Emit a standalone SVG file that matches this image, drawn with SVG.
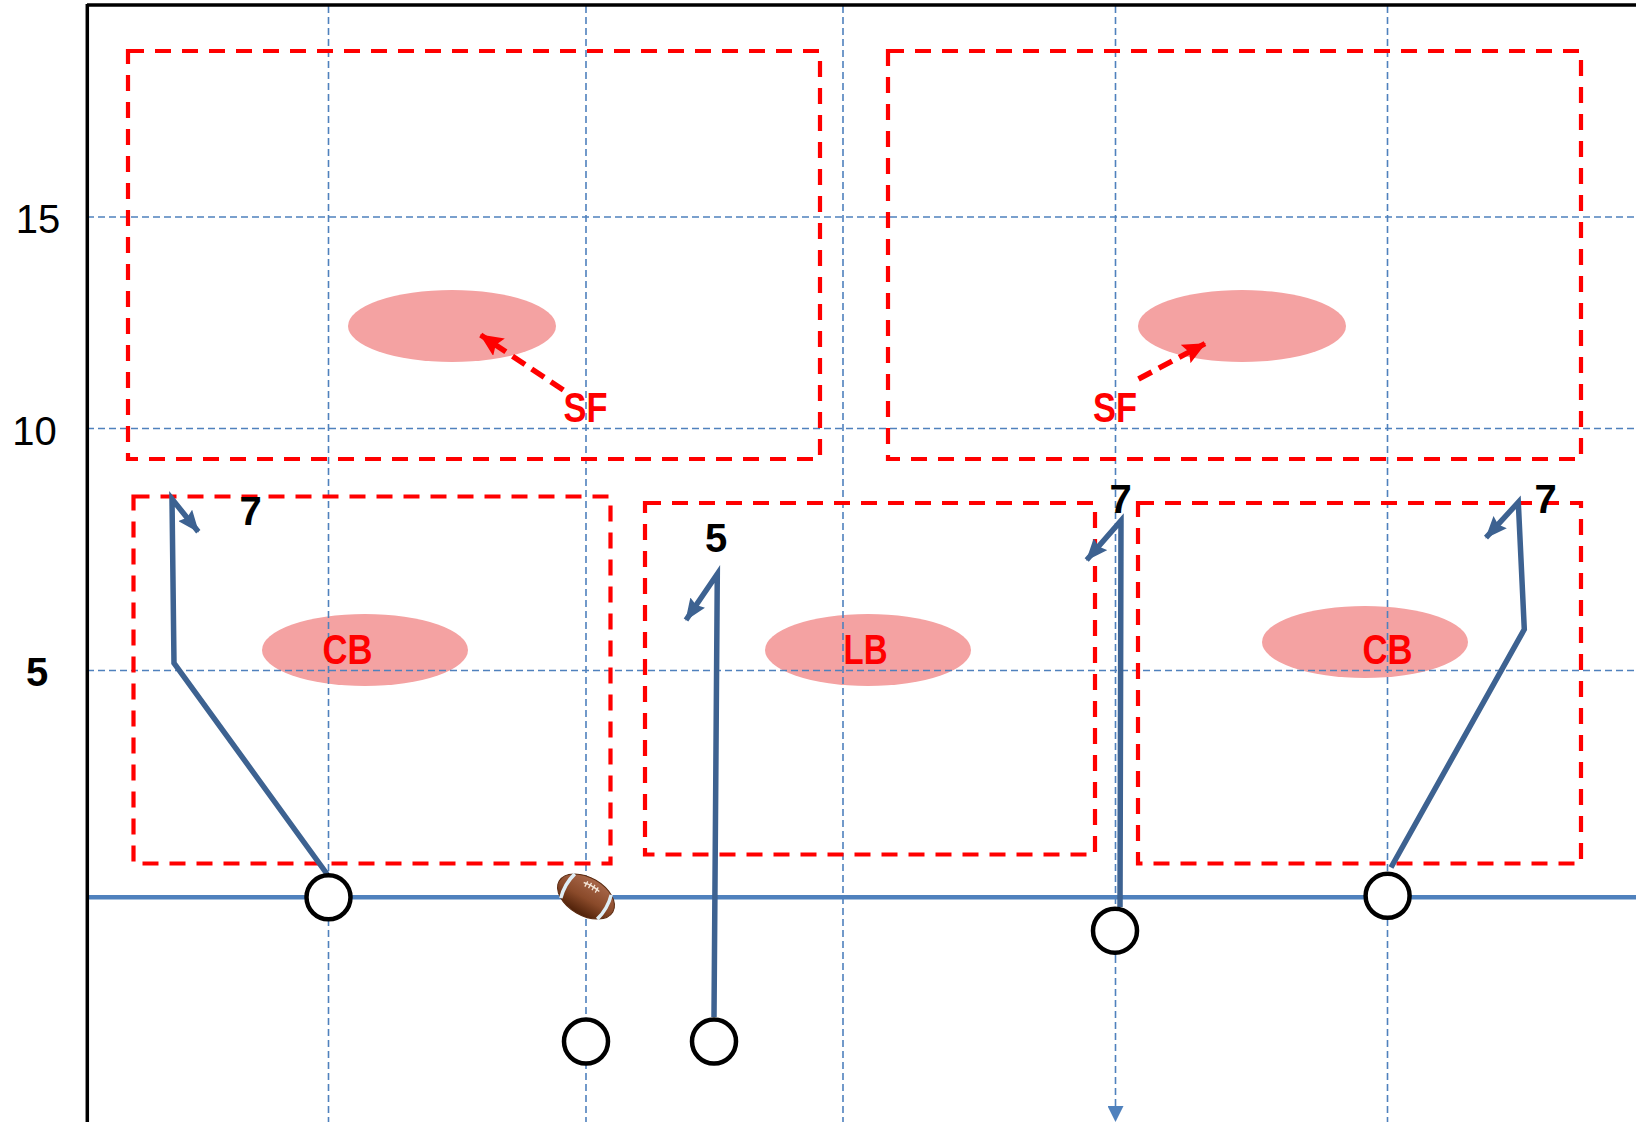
<svg xmlns="http://www.w3.org/2000/svg" width="1636" height="1122" viewBox="0 0 1636 1122">
<style>
.grid{stroke:#4f81bd;stroke-width:1.6;stroke-dasharray:7 4;fill:none}
.zone{stroke:#ff0000;stroke-width:4.2;stroke-dasharray:16 11;fill:none}
.area{fill:#f4a2a2}
.route{stroke:#3d6291;stroke-width:5.5;fill:none;stroke-linejoin:miter}
.sfarrow{stroke:#ff0000;stroke-width:5.5;stroke-dasharray:15 8;fill:none}
.player{fill:#ffffff;stroke:#000000;stroke-width:4.5}
.pos{font-family:"Liberation Sans",Arial,sans-serif;font-weight:bold;font-size:42px;fill:#ff0000;text-anchor:middle}
.num{font-family:"Liberation Sans",Arial,sans-serif;font-weight:bold;font-size:40px;fill:#000000;text-anchor:middle}
.yard{font-family:"Liberation Sans",Arial,sans-serif;font-size:40px;fill:#000000;text-anchor:middle}
</style>
<defs>
<marker id="routeHead" markerUnits="userSpaceOnUse" markerWidth="22" markerHeight="18" viewBox="0 0 22 18" refX="21" refY="9" orient="auto">
<path d="M0,0 L22,9 L0,18 L3,9 z" fill="#3d6291"/>
</marker>
<marker id="redHead" markerUnits="userSpaceOnUse" markerWidth="23" markerHeight="21" viewBox="0 0 23 21" refX="22" refY="10.5" orient="auto">
<path d="M0,0 L23,10.5 L0,21 L4,10.5 z" fill="#ff0000"/>
</marker>
<marker id="blueHead" markerUnits="userSpaceOnUse" markerWidth="16" markerHeight="16" viewBox="0 0 16 16" refX="15" refY="8" orient="auto">
<path d="M0,0 L16,8 L0,16 z" fill="#4f81bd"/>
</marker>
<linearGradient id="ballGrad" x1="0" y1="0" x2="0" y2="1">
<stop offset="0" stop-color="#a8674a"/>
<stop offset="0.55" stop-color="#8a4a2a"/>
<stop offset="1" stop-color="#4e2008"/>
</linearGradient>
</defs>

<g id="coverage-areas">
<ellipse id="area-sf-left" class="area" cx="452" cy="326" rx="104" ry="36"/>
<ellipse id="area-sf-right" class="area" cx="1242" cy="326" rx="104" ry="36"/>
<ellipse id="area-cb-left" class="area" cx="365" cy="650" rx="103" ry="36"/>
<ellipse id="area-lb" class="area" cx="868" cy="650" rx="103" ry="36"/>
<ellipse id="area-cb-right" class="area" cx="1365" cy="642" rx="103" ry="36"/>
</g>

<g id="grid">
<line class="grid" x1="328.5" y1="6" x2="328.5" y2="1122"/>
<line class="grid" x1="586" y1="6" x2="586" y2="1122"/>
<line class="grid" x1="843" y1="6" x2="843" y2="1122"/>
<line class="grid" x1="1115.5" y1="6" x2="1115.5" y2="956"/>
<line class="grid" x1="1387.5" y1="6" x2="1387.5" y2="1122"/>
<line class="grid" x1="87" y1="217" x2="1636" y2="217"/>
<line class="grid" x1="87" y1="428.5" x2="1636" y2="428.5"/>
<line class="grid" x1="87" y1="670.5" x2="1636" y2="670.5"/>
</g>

<g id="zones">
<rect id="zone-deep-left" class="zone" x="128" y="51" width="692" height="408"/>
<rect id="zone-deep-right" class="zone" x="888" y="51" width="693" height="408"/>
<rect id="zone-flat-left" class="zone" x="133.5" y="496.5" width="477" height="367"/>
<rect id="zone-hook-middle" class="zone" x="645" y="503" width="450" height="351.5"/>
<rect id="zone-flat-right" class="zone" x="1138" y="503" width="443" height="360.5"/>
</g>

<g id="field">
<line x1="87" y1="897.3" x2="1636" y2="897.3" stroke="#4f81bd" stroke-width="4.5"/>
<line x1="87" y1="5" x2="1636" y2="5" stroke="#000000" stroke-width="3.5"/>
<line x1="87.3" y1="4" x2="87.3" y2="1122" stroke="#000000" stroke-width="3.5"/>
</g>

<g id="connectors">
<path id="route-left-7" class="route" d="M327,874 L174,663 L172,499 L198.3,531.7" marker-end="url(#routeHead)"/>
<path id="route-5" class="route" d="M714,1017 L717.3,574 L686,620" marker-end="url(#routeHead)"/>
<path id="route-middle-7" class="route" d="M1120,907 L1121,520.7 L1086.7,560" marker-end="url(#routeHead)"/>
<path id="route-right-7" class="route" d="M1391,867.5 L1524.3,629.3 L1518.3,502.3 L1486,537.7" marker-end="url(#routeHead)"/>
<path id="motion-back" class="grid" d="M1115.5,956 L1115.5,1121" marker-end="url(#blueHead)"/>
<path id="sf-left-drop" class="sfarrow" d="M563.3,390 L480.7,335" marker-end="url(#redHead)"/>
<path id="sf-right-drop" class="sfarrow" d="M1138.5,379 L1205,343.6" marker-end="url(#redHead)"/>
</g>

<g id="players">
<circle id="player-left-wr" class="player" cx="328.5" cy="897.3" r="22"/>
<circle id="player-qb" class="player" cx="586" cy="1041.5" r="22"/>
<circle id="player-rb" class="player" cx="714" cy="1041.5" r="22"/>
<circle id="player-slot" class="player" cx="1115" cy="930.7" r="22"/>
<circle id="player-right-wr" class="player" cx="1387.6" cy="895.8" r="22"/>
</g>

<g id="football" transform="translate(586,896.5) rotate(30)">
<ellipse cx="0" cy="0" rx="31" ry="19" fill="url(#ballGrad)" stroke="#5a2a10" stroke-width="1"/>
<path d="M-21,-14 Q-25,0 -21,14" fill="none" stroke="#dfeef6" stroke-width="3.5"/>
<path d="M21,-14 Q25,0 21,14" fill="none" stroke="#dfeef6" stroke-width="3.5"/>
<path d="M-9,-11 Q0,-13 9,-11" fill="none" stroke="#f4e6d8" stroke-width="1.5"/>
<path d="M-6,-14 L-6,-8 M-2,-14.5 L-2,-8.5 M2,-14.5 L2,-8.5 M6,-14 L6,-8" stroke="#f4e6d8" stroke-width="1.3"/>
</g>

<g id="labels">
<text id="label-sf-left" class="pos" x="585.5" y="421.5" textLength="44" lengthAdjust="spacingAndGlyphs">SF</text>
<text id="label-sf-right" class="pos" x="1115" y="421.5" textLength="44" lengthAdjust="spacingAndGlyphs">SF</text>
<text id="label-cb-left" class="pos" x="347.5" y="664" textLength="50" lengthAdjust="spacingAndGlyphs">CB</text>
<text id="label-lb" class="pos" x="865.5" y="664" textLength="44" lengthAdjust="spacingAndGlyphs">LB</text>
<text id="label-cb-right" class="pos" x="1387.5" y="664" textLength="50" lengthAdjust="spacingAndGlyphs">CB</text>
<text id="num-left-7" class="num" x="250.5" y="525">7</text>
<text id="num-5" class="num" x="716" y="552">5</text>
<text id="num-middle-7" class="num" x="1120.5" y="513">7</text>
<text id="num-right-7" class="num" x="1545.5" y="513">7</text>
<text id="yard-15" class="yard" x="38" y="233">15</text>
<text id="yard-10" class="yard" x="34.5" y="445">10</text>
<text id="yard-5" class="num" x="37" y="686">5</text>
</g>
</svg>
